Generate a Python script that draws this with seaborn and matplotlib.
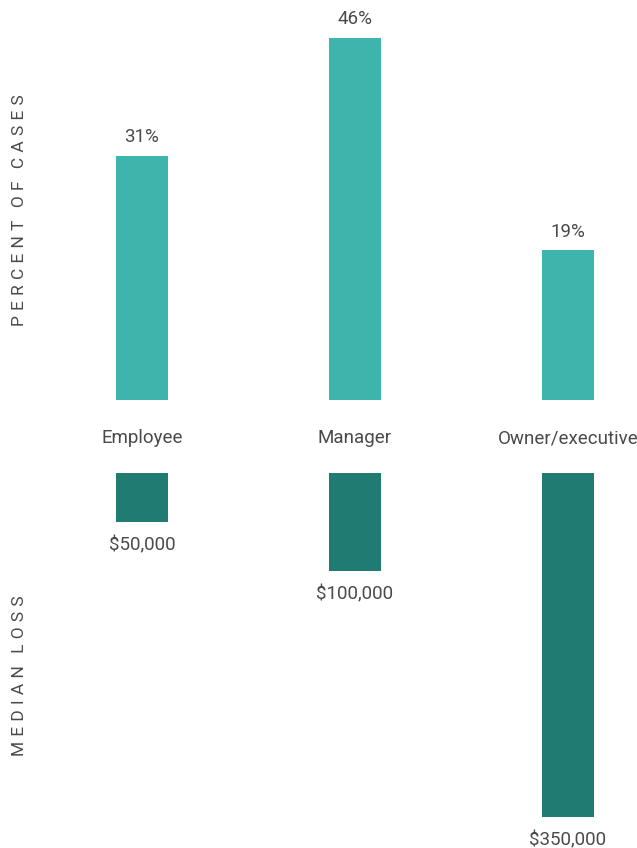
import matplotlib
matplotlib.use("Agg")
import matplotlib.pyplot as plt
import seaborn as sns

roles = ["Employee", "Manager", "Owner/executive"]
pct_cases = [31, 46, 19]
median_loss = [50000, 100000, 350000]

TEAL = "#3DB5AC"
DARK_TEAL = "#207B73"
TEXT = "#4a4a4a"

sns.set_theme(style="white")
plt.rcParams["font.family"] = ["Roboto", "DejaVu Sans"]

W, H = 637, 848
fig = plt.figure(figsize=(W / 100, H / 100), dpi=100)


def rect(left, top, right, bottom):
    return [left / W, 1 - bottom / H, (right - left) / W, (bottom - top) / H]


def spaced(s):
    # letter-spaced caps for the side titles
    gap = "\u2009\u200a"
    return gap.join(s).replace(gap + " " + gap, "\u2002\u2009")


# Upper panel: share of cases
ax1 = fig.add_axes(rect(56.8, 0, 631.9, 400))
sns.barplot(x=roles, y=pct_cases, order=roles, color=TEAL, saturation=1,
            width=0.244, linewidth=0, ax=ax1)
ax1.set_xlim(-0.4, 2.3)
ax1.set_ylim(0, 400 / 7.87)
ax1.bar_label(ax1.containers[0], labels=[f"{v}%" for v in pct_cases],
              padding=7, fontsize=13.5, color=TEXT)
ax1.set_yticks([])
ax1.set_xticks(range(len(roles)))
ax1.set_xticklabels(roles, fontsize=13.5, color=TEXT)
ax1.tick_params(axis="x", length=0, pad=21)
ax1.set_xlabel("")
ax1.set_ylabel("")
sns.despine(ax=ax1, left=True, bottom=True)

# Lower panel: median loss, hanging downward
ax2 = fig.add_axes(rect(56.8, 473, 631.9, 848))
sns.barplot(x=roles, y=median_loss, order=roles, color=DARK_TEAL, saturation=1,
            width=0.244, linewidth=0, ax=ax2)
ax2.set_xlim(-0.4, 2.3)
ax2.set_ylim(375 / (344 / 350000), 0)
ax2.bar_label(ax2.containers[0], labels=[f"${v:,}" for v in median_loss],
              padding=10, fontsize=13.5, color=TEXT)
ax2.set_xticks([])
ax2.set_yticks([])
ax2.set_xlabel("")
ax2.set_ylabel("")
sns.despine(ax=ax2, left=True, bottom=True)

fig.text(20 / W, 1 - 210 / H, spaced("PERCENT OF CASES"), rotation=90,
         ha="center", va="center", fontsize=12.5, color=TEXT)
fig.text(20 / W, 1 - 676 / H, spaced("MEDIAN LOSS"), rotation=90,
         ha="center", va="center", fontsize=12.5, color=TEXT)

fig.savefig("out.png", dpi=100, facecolor="white")
